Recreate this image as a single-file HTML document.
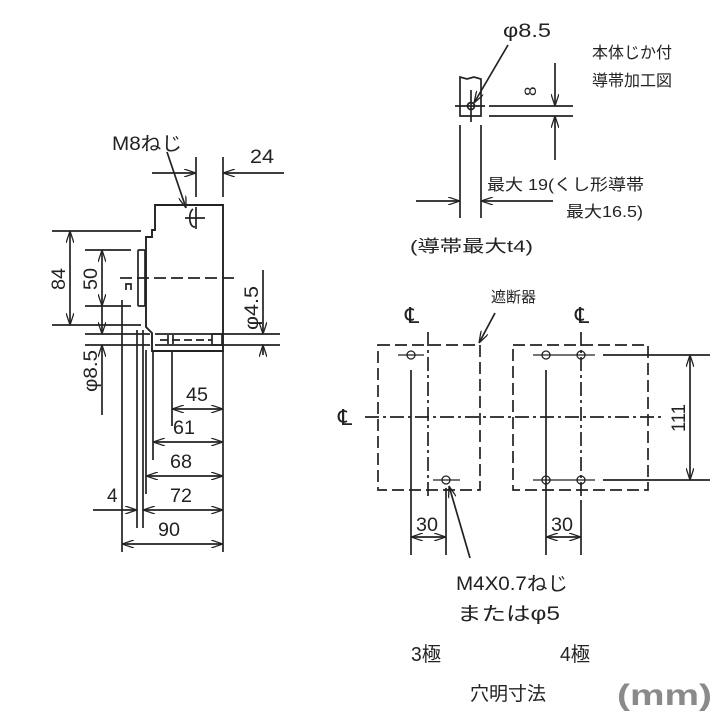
<!DOCTYPE html>
<html><head><meta charset="utf-8"><style>
html,body{margin:0;padding:0;background:#fff}
svg{display:block}
text{font-family:"Liberation Sans","Noto Sans CJK JP",sans-serif;fill:#222}
</style></head><body>
<svg width="720" height="720" viewBox="0 0 720 720" xmlns="http://www.w3.org/2000/svg">
<defs>
<marker id="a" viewBox="0 0 12 8" refX="12" refY="4" markerWidth="12" markerHeight="8" orient="auto-start-reverse" markerUnits="userSpaceOnUse"><path d="M0,0 L12,4 L0,8" fill="none" stroke="#222" stroke-width="1.3"/></marker>
</defs>
<g stroke="#222" stroke-width="1.7" fill="none">
<path d="M155,205 H223 V351 H152 V333 L146,327 V237 H152 V230 H155 Z" stroke-width="1.9"/>
<line x1="120" y1="278" x2="238" y2="278" stroke-dasharray="12,5"/>
<rect x="138" y="250" width="7" height="56" rx="1"/>
<path d="M126,290 v-6 h5 v6" />
<path d="M193,209 q-4,3 -3,12 q1,6 5,6" />
<line x1="185" y1="218" x2="205" y2="218"/>
<line x1="196" y1="207" x2="196" y2="229"/>
<line x1="196" y1="157" x2="196" y2="197"/>
<line x1="223" y1="157" x2="223" y2="197"/>
<line x1="152" y1="173" x2="196" y2="173" marker-end="url(#a)"/>
<line x1="284" y1="173" x2="223" y2="173" marker-end="url(#a)"/>
<line x1="167" y1="152" x2="186" y2="208" marker-end="url(#a)"/>
<line x1="52" y1="231" x2="141" y2="231"/>
<line x1="52" y1="325" x2="141" y2="325"/>
<line x1="70" y1="231" x2="70" y2="325" marker-start="url(#a)" marker-end="url(#a)"/>
<line x1="85" y1="250" x2="131" y2="250"/>
<line x1="85" y1="306" x2="131" y2="306"/>
<line x1="102" y1="250" x2="102" y2="306" marker-start="url(#a)" marker-end="url(#a)"/>
<line x1="85" y1="334" x2="150" y2="334"/>
<line x1="85" y1="345" x2="150" y2="345"/>
<line x1="102" y1="306" x2="102" y2="334" marker-end="url(#a)"/>
<line x1="102" y1="415" x2="102" y2="345" marker-end="url(#a)"/>
<line x1="155" y1="334" x2="280" y2="334"/>
<line x1="155" y1="345" x2="280" y2="345"/>
<line x1="160" y1="340" x2="212" y2="340" stroke-dasharray="8,4"/>
<rect x="212" y="334" width="10" height="11"/>
<path d="M168,335 v9 M173,335 v9"/>
<line x1="263" y1="270" x2="263" y2="334" marker-end="url(#a)"/>
<line x1="263" y1="355" x2="263" y2="345" marker-end="url(#a)"/>
<line x1="122" y1="300" x2="122" y2="552"/>
<line x1="137" y1="330" x2="137" y2="528"/>
<line x1="143" y1="330" x2="143" y2="528"/>
<line x1="146" y1="350" x2="146" y2="494"/>
<line x1="153" y1="350" x2="153" y2="460"/>
<line x1="172" y1="352" x2="172" y2="426"/>
<line x1="223" y1="351" x2="223" y2="552"/>
<line x1="172" y1="409" x2="223" y2="409" marker-start="url(#a)" marker-end="url(#a)"/>
<line x1="153" y1="442" x2="223" y2="442" marker-start="url(#a)" marker-end="url(#a)"/>
<line x1="146" y1="476" x2="223" y2="476" marker-start="url(#a)" marker-end="url(#a)"/>
<line x1="143" y1="510" x2="223" y2="510" marker-start="url(#a)" marker-end="url(#a)"/>
<line x1="93" y1="510" x2="137" y2="510" marker-end="url(#a)"/>
<line x1="122" y1="544" x2="223" y2="544" marker-start="url(#a)" marker-end="url(#a)"/>
<path d="M460,116 V77 L467,79 L474,77 L481,79 V116 Z"/>
<circle cx="471" cy="106" r="3.5"/>
<line x1="455" y1="106" x2="485" y2="106"/>
<line x1="471" y1="90" x2="471" y2="122"/>
<line x1="508" y1="45" x2="474" y2="103" marker-end="url(#a)"/>
<line x1="489" y1="106" x2="573" y2="106"/>
<line x1="489" y1="116" x2="573" y2="116"/>
<line x1="555" y1="63" x2="555" y2="106" marker-end="url(#a)"/>
<line x1="555" y1="160" x2="555" y2="116" marker-end="url(#a)"/>
<line x1="460" y1="125" x2="460" y2="218"/>
<line x1="481" y1="125" x2="481" y2="218"/>
<line x1="416" y1="201" x2="460" y2="201" marker-end="url(#a)"/>
<line x1="553" y1="201" x2="481" y2="201" marker-end="url(#a)"/>
<rect x="378" y="345" width="102" height="145" stroke-dasharray="12,5"/>
<rect x="513" y="345" width="135" height="145" stroke-dasharray="12,5"/>
<line x1="365" y1="417" x2="662" y2="417" stroke-dasharray="14,4,3,4"/>
<line x1="428" y1="332" x2="428" y2="500" stroke-dasharray="14,4,3,4"/>
<line x1="581" y1="332" x2="581" y2="500" stroke-dasharray="14,4,3,4"/>
<g stroke-width="1.3">
<circle cx="411" cy="355" r="4"/><line x1="398" y1="355" x2="424" y2="355"/>
<circle cx="446" cy="480" r="4"/><line x1="433" y1="480" x2="460" y2="480"/>
<circle cx="546" cy="355" r="4"/><circle cx="581" cy="355" r="4"/>
<circle cx="546" cy="480" r="4"/><circle cx="581" cy="480" r="4"/>
<line x1="533" y1="355" x2="595" y2="355"/><line x1="533" y1="480" x2="595" y2="480"/>
</g>
<line x1="411" y1="370" x2="411" y2="555"/>
<line x1="446" y1="488" x2="446" y2="555"/>
<line x1="546" y1="370" x2="546" y2="555"/>
<line x1="581" y1="500" x2="581" y2="555"/>
<line x1="603" y1="355" x2="710" y2="355"/>
<line x1="603" y1="480" x2="710" y2="480"/>
<line x1="690" y1="355" x2="690" y2="480" marker-start="url(#a)" marker-end="url(#a)"/>
<line x1="411" y1="537" x2="446" y2="537" marker-start="url(#a)" marker-end="url(#a)"/>
<line x1="546" y1="537" x2="581" y2="537" marker-start="url(#a)" marker-end="url(#a)"/>
<line x1="495" y1="313" x2="479" y2="343" marker-end="url(#a)"/>
<line x1="470" y1="558" x2="449" y2="486" marker-end="url(#a)"/>
</g>
<g font-size="19">
<text x="112" y="150" textLength="70" lengthAdjust="spacingAndGlyphs">M8ねじ</text>
<text x="250" y="163" textLength="24" lengthAdjust="spacingAndGlyphs">24</text>
<text transform="translate(65,290) rotate(-90)" textLength="22" lengthAdjust="spacingAndGlyphs">84</text>
<text transform="translate(97,290) rotate(-90)" textLength="22" lengthAdjust="spacingAndGlyphs">50</text>
<text transform="translate(97,392) rotate(-90)" textLength="42" lengthAdjust="spacingAndGlyphs">φ8.5</text>
<text transform="translate(258,330) rotate(-90)" textLength="44" lengthAdjust="spacingAndGlyphs">φ4.5</text>
<text x="186" y="401" textLength="22" lengthAdjust="spacingAndGlyphs">45</text>
<text x="173" y="434" textLength="22" lengthAdjust="spacingAndGlyphs">61</text>
<text x="170" y="468" textLength="22" lengthAdjust="spacingAndGlyphs">68</text>
<text x="170" y="502" textLength="22" lengthAdjust="spacingAndGlyphs">72</text>
<text x="107" y="502">4</text>
<text x="158" y="536" textLength="22" lengthAdjust="spacingAndGlyphs">90</text>
<text x="503" y="37" textLength="48" lengthAdjust="spacingAndGlyphs">φ8.5</text>
<text x="592" y="58" font-size="16">本体じか付</text>
<text x="592" y="86" font-size="16">導帯加工図</text>
<text transform="translate(536,96) rotate(-90)" font-size="17">8</text>
<text x="487" y="190" font-size="16" textLength="157" lengthAdjust="spacingAndGlyphs">最大 19(くし形導帯</text>
<text x="566" y="217" font-size="16" textLength="77" lengthAdjust="spacingAndGlyphs">最大16.5)</text>
<text x="410" y="252" font-size="17" textLength="123" lengthAdjust="spacingAndGlyphs">(導帯最大t4)</text>
<text x="491" y="302" font-size="15">遮断器</text>
<text x="405" y="323" font-family="Liberation Serif" font-size="22">℄</text>
<text x="575" y="323" font-family="Liberation Serif" font-size="22">℄</text>
<text x="338" y="425" font-family="Liberation Serif" font-size="22">℄</text>
<text transform="translate(685,432) rotate(-90)" textLength="28" lengthAdjust="spacingAndGlyphs">111</text>
<text x="416" y="531" textLength="22" lengthAdjust="spacingAndGlyphs">30</text>
<text x="551" y="531" textLength="22" lengthAdjust="spacingAndGlyphs">30</text>
<text x="456" y="590" textLength="112" lengthAdjust="spacingAndGlyphs">M4X0.7ねじ</text>
<text x="457" y="620" textLength="103" lengthAdjust="spacingAndGlyphs">またはφ5</text>
<text x="411" y="661" font-size="20" textLength="30" lengthAdjust="spacingAndGlyphs">3極</text>
<text x="560" y="661" font-size="20" textLength="30" lengthAdjust="spacingAndGlyphs">4極</text>
<text x="470" y="700" font-size="19" textLength="76" lengthAdjust="spacingAndGlyphs">穴明寸法</text>
</g>
<text x="617" y="705" font-size="30" font-weight="bold" style="fill:#8a8a8a" textLength="95" lengthAdjust="spacingAndGlyphs">(mm)</text>
</svg>
</body></html>
